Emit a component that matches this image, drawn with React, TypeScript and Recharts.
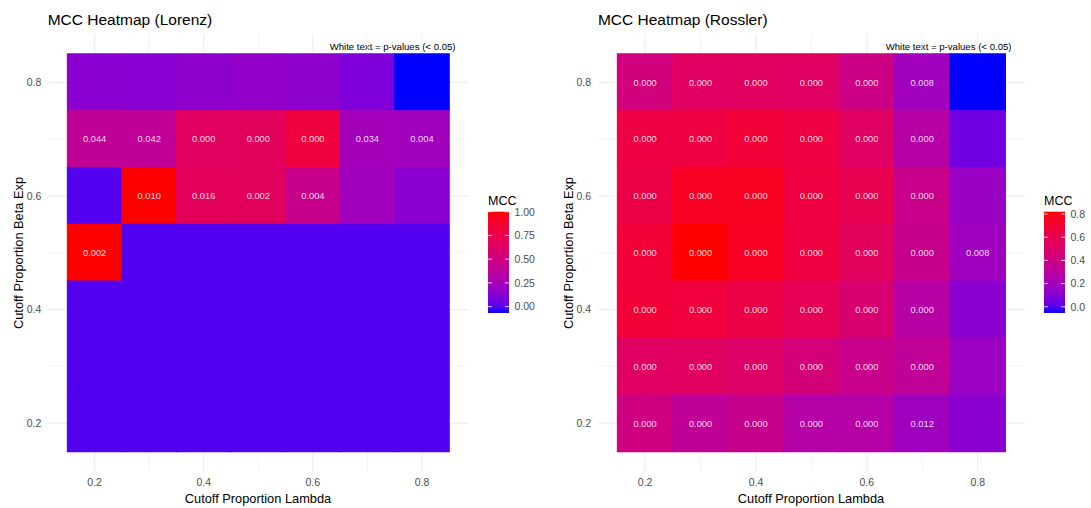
import { ScatterChart, Scatter, XAxis, YAxis, CartesianGrid, ReferenceArea } from 'recharts';

// grid values (cell centres) for both panels
const lambdaValues = [0.2, 0.3, 0.4, 0.5, 0.6, 0.7, 0.8];
const betaValues = [0.8, 0.7, 0.6, 0.5, 0.4, 0.3, 0.2]; // rows, top to bottom
const axisTicks = [0.2, 0.4, 0.6, 0.8];
const minorTicks = [0.3, 0.5, 0.7];

// MCC per row (beta) and column (lambda)
const lorenzMcc = [
  [0.14, 0.13, 0.15, 0.17, 0.15, 0.1, -0.067],
  [0.41, 0.4, 0.66, 0.67, 0.81, 0.24, 0.23],
  [0.0, 1.0, 0.68, 0.67, 0.45, 0.23, 0.14],
  [1.0, 0.0, 0.0, 0.0, 0.0, 0.0, 0.0],
  [0.0, 0.0, 0.0, 0.0, 0.0, 0.0, 0.0],
  [0.0, 0.0, 0.0, 0.0, 0.0, 0.0, 0.0],
  [0.0, 0.0, 0.0, 0.0, 0.0, 0.0, 0.0],
];
const lorenzP = [
  [null, null, null, null, null, null, null],
  ['0.044', '0.042', '0.000', '0.000', '0.000', '0.034', '0.004'],
  [null, '0.010', '0.016', '0.002', '0.004', null, null],
  ['0.002', null, null, null, null, null, null],
  [null, null, null, null, null, null, null],
  [null, null, null, null, null, null, null],
  [null, null, null, null, null, null, null],
];
const lorenzLimits = [-0.067, 1.0];
const lorenzBreaks = [0, 0.25, 0.5, 0.75, 1.0];
const lorenzBreakLabels = ['0.00', '0.25', '0.50', '0.75', '1.00'];

const rosslerMcc = [
  [0.43, 0.53, 0.54, 0.53, 0.4, 0.19, -0.054],
  [0.645, 0.66, 0.69, 0.65, 0.53, 0.28, 0.05],
  [0.63, 0.75, 0.76, 0.66, 0.6, 0.38, 0.16],
  [0.69, 0.82, 0.75, 0.66, 0.55, 0.37, 0.18],
  [0.69, 0.67, 0.64, 0.58, 0.48, 0.28, 0.12],
  [0.53, 0.54, 0.51, 0.45, 0.38, 0.33, 0.17],
  [0.42, 0.33, 0.37, 0.27, 0.27, 0.18, 0.12],
];
const rosslerP = [
  ['0.000', '0.000', '0.000', '0.000', '0.000', '0.008', null],
  ['0.000', '0.000', '0.000', '0.000', '0.000', '0.000', null],
  ['0.000', '0.000', '0.000', '0.000', '0.000', '0.000', null],
  ['0.000', '0.000', '0.000', '0.000', '0.000', '0.000', '0.008'],
  ['0.000', '0.000', '0.000', '0.000', '0.000', '0.000', null],
  ['0.000', '0.000', '0.000', '0.000', '0.000', '0.000', null],
  ['0.000', '0.000', '0.000', '0.000', '0.000', '0.012', null],
];
const rosslerLimits = [-0.054, 0.82];
const rosslerBreaks = [0, 0.2, 0.4, 0.6, 0.8];
const rosslerBreakLabels = ['0.0', '0.2', '0.4', '0.6', '0.8'];

const FONT = '"Liberation Sans", Arial, sans-serif';
const DOMAIN: [number, number] = [0.115, 0.885];

// --- blue -> red gradient interpolated in CIELAB (like ggplot's scale_fill_gradient)
const lin = (c: number) => {
  c /= 255;
  return c <= 0.04045 ? c / 12.92 : Math.pow((c + 0.055) / 1.055, 2.4);
};
const gam = (c: number) => {
  const v = c <= 0.0031308 ? 12.92 * c : 1.055 * Math.pow(c, 1 / 2.4) - 0.055;
  return Math.round(Math.min(1, Math.max(0, v)) * 255);
};
const rgbToLab = (r: number, g: number, b: number) => {
  const R = lin(r), G = lin(g), B = lin(b);
  const X = (0.4124 * R + 0.3576 * G + 0.1805 * B) / 0.95047;
  const Y = 0.2126 * R + 0.7152 * G + 0.0722 * B;
  const Z = (0.0193 * R + 0.1192 * G + 0.9505 * B) / 1.08883;
  const f = (t: number) => (t > 0.008856 ? Math.cbrt(t) : 7.787 * t + 16 / 116);
  const fx = f(X), fy = f(Y), fz = f(Z);
  return [116 * fy - 16, 500 * (fx - fy), 200 * (fy - fz)];
};
const labToHex = (L: number, a: number, b: number) => {
  const fy = (L + 16) / 116;
  const fx = fy + a / 500;
  const fz = fy - b / 200;
  const inv = (t: number) => (t > 6 / 29 ? t * t * t : 3 * (6 / 29) * (6 / 29) * (t - 4 / 29));
  const X = 0.95047 * inv(fx), Y = inv(fy), Z = 1.08883 * inv(fz);
  const r = 3.2406 * X - 1.5372 * Y - 0.4986 * Z;
  const g = -0.9689 * X + 1.8758 * Y + 0.0415 * Z;
  const bb = 0.0557 * X - 0.204 * Y + 1.057 * Z;
  return '#' + [gam(r), gam(g), gam(bb)].map((v) => v.toString(16).padStart(2, '0')).join('');
};
const LOW = rgbToLab(0, 0, 255);
const HIGH = rgbToLab(255, 0, 0);
const rampColor = (t: number) => {
  const k = Math.min(1, Math.max(0, t));
  return labToHex(
    LOW[0] + (HIGH[0] - LOW[0]) * k,
    LOW[1] + (HIGH[1] - LOW[1]) * k,
    LOW[2] + (HIGH[2] - LOW[2]) * k
  );
};

type Cell = { lambda: number; beta: number; mcc: number; p: string | null };

const buildCells = (mcc: number[][], p: (string | null)[][]): Cell[] =>
  betaValues.flatMap((beta, r) =>
    lambdaValues.map((lambda, c) => ({ lambda, beta, mcc: mcc[r][c], p: p[r][c] }))
  );

const PValueText = (props: any) => {
  const { cx, cy, payload } = props;
  if (!payload || !payload.p) return <g />;
  return (
    <text x={cx} y={cy + 3.3} textAnchor="middle" fontSize={9.3} fontFamily={FONT} fill="#fff" fillOpacity={0.85}>
      {payload.p}
    </text>
  );
};

interface HeatPanelProps {
  left: number;
  width: number;
  plotLeft: number;
  plotRight: number;
  mcc: number[][];
  p: (string | null)[][];
  limits: number[];
}

const Y_AXIS_W = 30;
const X_AXIS_H = 30;

const HeatPanel = ({ left, width, plotLeft, plotRight, mcc, p, limits }: HeatPanelProps) => {
  const cells = buildCells(mcc, p);
  const toT = (v: number) => (v - limits[0]) / (limits[1] - limits[0]);
  const tick = { fill: '#4D4D4D', fontSize: 10.5, fontFamily: FONT };
  return (
    <div style={{ position: 'absolute', left, top: 0 }}>
      <ScatterChart
        width={width}
        height={508}
        margin={{
          top: 34,
          bottom: 36.5 - X_AXIS_H,
          left: plotLeft - left - Y_AXIS_W,
          right: left + width - plotRight,
        }}
      >
        <CartesianGrid stroke="#EBEBEB" strokeWidth={1} verticalValues={axisTicks} horizontalValues={axisTicks} />
        <CartesianGrid stroke="#EBEBEB" strokeWidth={0.6} verticalValues={minorTicks} horizontalValues={minorTicks} />
        <XAxis
          type="number"
          dataKey="lambda"
          domain={DOMAIN}
          ticks={axisTicks}
          allowDataOverflow
          axisLine={false}
          tickLine={false}
          tickSize={0}
          tickMargin={7.5}
          height={X_AXIS_H}
          tick={tick}
        />
        <YAxis
          type="number"
          dataKey="beta"
          domain={DOMAIN}
          ticks={axisTicks}
          allowDataOverflow
          axisLine={false}
          tickLine={false}
          tickSize={0}
          tickMargin={7}
          width={Y_AXIS_W}
          tick={tick}
        />
        {cells.map((c, i) => {
          const color = rampColor(toT(c.mcc));
          return (
            <ReferenceArea
              key={i}
              x1={c.lambda - 0.05}
              x2={c.lambda + 0.05}
              y1={c.beta - 0.05}
              y2={c.beta + 0.05}
              fill={color}
              fillOpacity={1}
              stroke={color}
              strokeWidth={1.1}
            />
          );
        })}
        <Scatter data={cells} shape={<PValueText />} isAnimationActive={false} />
      </ScatterChart>
    </div>
  );
};

interface ColorBarProps {
  x: number;
  limits: number[];
  breaks: number[];
  labels: string[];
}

const BAR_TOP = 211.7;
const BAR_H = 101.3;
const BAR_W = 21;

const ColorBar = ({ x, limits, breaks, labels }: ColorBarProps) => {
  const id = 'grad' + Math.round(x);
  const stops = Array.from({ length: 21 }, (_, i) => i / 20);
  const yOf = (v: number) => BAR_TOP + BAR_H * (1 - (v - limits[0]) / (limits[1] - limits[0]));
  return (
    <g>
      <defs>
        <linearGradient id={id} x1="0" y1="1" x2="0" y2="0">
          {stops.map((s) => (
            <stop key={s} offset={s} stopColor={rampColor(s)} />
          ))}
        </linearGradient>
      </defs>
      <text x={x} y={204.5} fontSize={12.5} fontFamily={FONT} fill="#000">MCC</text>
      <rect x={x} y={BAR_TOP} width={BAR_W} height={BAR_H} fill={`url(#${id})`} />
      {breaks.map((b, i) => (
        <g key={b}>
          <line x1={x} x2={x + 4} y1={yOf(b)} y2={yOf(b)} stroke="#fff" strokeWidth={0.8} />
          <line x1={x + BAR_W - 4} x2={x + BAR_W} y1={yOf(b)} y2={yOf(b)} stroke="#fff" strokeWidth={0.8} />
          <text x={x + BAR_W + 5.5} y={yOf(b) + 3.8} fontSize={10.5} fontFamily={FONT} fill="#4D4D4D">
            {labels[i]}
          </text>
        </g>
      ))}
    </g>
  );
};

export default function App() {
  return (
    <div style={{ position: 'absolute', left: 0, top: 0, width: 1091, height: 508, background: '#fff', overflow: 'hidden' }}>
      <svg width={1091} height={508} style={{ position: 'absolute', left: 0, top: 0 }}>
        <text x={47.7} y={25.3} fontSize={15.5} fontFamily={FONT} fill="#000">MCC Heatmap (Lorenz)</text>
        <text x={597.9} y={25.3} fontSize={15.5} fontFamily={FONT} fill="#000">MCC Heatmap (Rossler)</text>
        <text x={455.5} y={50.2} fontSize={9.6} fontFamily={FONT} fill="#000" textAnchor="end">
          White text = p-values (&lt; 0.05)
        </text>
        <text x={1011.5} y={50.2} fontSize={9.6} fontFamily={FONT} fill="#000" textAnchor="end">
          White text = p-values (&lt; 0.05)
        </text>
        <text x={258} y={502.5} fontSize={12.8} fontFamily={FONT} fill="#000" textAnchor="middle">
          Cutoff Proportion Lambda
        </text>
        <text x={811} y={502.5} fontSize={12.8} fontFamily={FONT} fill="#000" textAnchor="middle">
          Cutoff Proportion Lambda
        </text>
        <text x={22.8} y={253} fontSize={12.8} fontFamily={FONT} fill="#000" textAnchor="middle" transform="rotate(-90 22.8 253)">
          Cutoff Proportion Beta Exp
        </text>
        <text x={572.8} y={253} fontSize={12.8} fontFamily={FONT} fill="#000" textAnchor="middle" transform="rotate(-90 572.8 253)">
          Cutoff Proportion Beta Exp
        </text>
        <ColorBar x={488} limits={lorenzLimits} breaks={lorenzBreaks} labels={lorenzBreakLabels} />
        <ColorBar x={1044} limits={rosslerLimits} breaks={rosslerBreaks} labels={rosslerBreakLabels} />
      </svg>
      <HeatPanel left={0} width={475} plotLeft={48.3} plotRight={468.3} mcc={lorenzMcc} p={lorenzP} limits={lorenzLimits} />
      <HeatPanel left={550} width={480} plotLeft={598} plotRight={1024.8} mcc={rosslerMcc} p={rosslerP} limits={rosslerLimits} />
    </div>
  );
}
